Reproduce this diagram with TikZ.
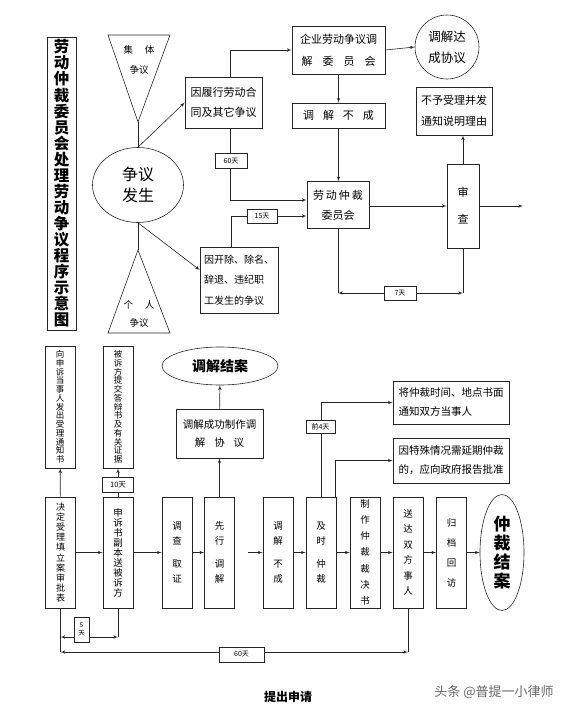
\documentclass[tikz,border=0pt]{standalone}
\usepackage{fontspec}
\setmainfont{Noto Sans CJK SC}
\usepackage{xcolor}
\usepackage{tikz}
\usetikzlibrary{positioning}
\usetikzlibrary{arrows}
\usetikzlibrary{shapes.geometric}
\tikzset{edge/.style = {->,> = latex'}}
\tikzset{both/.style = {<->,> = latex'}}
\newcommand{\gp}{\hspace{9pt}}

\begin{document}
\begin{tikzpicture}[x=1pt,y=-1pt,line width=0.6pt,draw=black!85,
    box/.style={draw,inner sep=0pt,align=center},
    tall/.style={box,minimum width=30pt,minimum height=111pt},
    tag/.style={draw,fill=white,inner sep=0pt,align=center,font=\fontsize{7}{8}\selectfont}]
\useasboundingbox (0,0) rectangle (576,712);

% upper part
\node[box,line width=0.9pt,minimum width=29pt,minimum height=293pt,font=\fontsize{15.5}{16.06}\selectfont\bfseries] (title) at (61.5,183.5) {劳\\动\\仲\\裁\\委\\员\\会\\处\\理\\劳\\动\\争\\议\\程\\序\\示\\意\\图};

\coordinate (jt) at (138,122);
\coordinate (gt) at (138,250);
\draw (108,35) -- (170,35) -- (jt) -- cycle;
\draw (108,333) -- (170,333) -- (gt) -- cycle;
\node[font=\fontsize{9.5}{10}\selectfont] (jt1) at (139,50) {集\hspace{12pt}体};
\node[font=\fontsize{9.5}{10}\selectfont] (jt2) at (139,70) {争议};
\node[font=\fontsize{9.5}{10}\selectfont] (gt1) at (139,305) {个\hspace{12pt}人};
\node[font=\fontsize{9.5}{10}\selectfont] (gt2) at (139,323) {争议};

\node[ellipse,draw,minimum width=91pt,minimum height=75pt,inner sep=0pt,align=center,font=\fontsize{16}{21}\selectfont] (fs) at (138,185) {争议\\发生};

\node[box,minimum width=77pt,minimum height=51pt,font=\fontsize{11}{20}\selectfont] (lx) at (223.5,102.5) {因履行劳动合\\同及其它争议};
\node[box,minimum width=93pt,minimum height=48pt,font=\fontsize{11}{22}\selectfont] (qy) at (338.5,50) {企业劳动争议调\\解\hspace{10pt}委\hspace{10pt}员\hspace{10pt}会};
\node[circle,draw,minimum size=64pt,inner sep=0pt,align=center,font=\fontsize{12.5}{21}\selectfont] (xy) at (447,47) {调解达\\成协议};
\node[box,minimum width=93pt,minimum height=25pt,font=\fontsize{11}{13}\selectfont] (bc) at (338.5,115.5) {调\gp 解\gp 不\gp 成};
\node[box,minimum width=62pt,minimum height=47pt,font=\fontsize{11}{20}\selectfont] (zc) at (338,205) {劳\hspace{2pt}动\hspace{2pt}仲\hspace{2pt}裁\\委员会};
\node[box,align=left,minimum width=78pt,minimum height=66pt,font=\fontsize{10}{20.5}\selectfont] (kc) at (239,280) {因开除、除名、\\辞退、违纪职\\工发生的争议};
\node[box,minimum width=32pt,minimum height=84pt,font=\fontsize{11}{27}\selectfont] (sc) at (463,206) {审\\查};
\node[box,minimum width=76pt,minimum height=48pt,font=\fontsize{11}{21}\selectfont] (by) at (454,111) {不予受理并发\\通知说明理由};
\coordinate (out) at (523,206);
\coordinate (d7l) at (338,293);
\coordinate (d7r) at (463,293);

\draw (jt) -- (fs.north);
\draw (fs.south) -- (gt);
\path (fs.north) edge[edge] (lx.west)
      (fs.south) edge[edge] ([yshift=10pt]kc.west)
      (qy.east) edge[edge] (xy.west)
      (qy.south) edge[edge] (qy.south |- bc.north)
      (bc.south) edge[edge] (bc.south |- zc.north)
      (sc.east) edge[edge] (out);
\draw[edge] ([xshift=6.5pt]lx.north) |- (qy.west);
\draw[edge] ([xshift=6.5pt]lx.south) |- ([yshift=5pt]zc.west);
\draw[edge] ([xshift=-8pt]kc.north) |- ([yshift=-11pt]zc.west);
\draw[edge] ([yshift=-1pt]zc.east) -- ([yshift=-1pt]zc.east -| sc.west);
\draw[edge] (sc.north) -- (sc.north |- by.south);
\draw (zc.south) -- (d7l);
\draw (sc.south) -- (d7r);
\draw[both] (d7l) -- (d7r);

\node[tag,minimum width=32pt,minimum height=15pt] (t60) at (231,161) {60天};
\node[tag,minimum width=30pt,minimum height=14pt] (t15) at (262,216) {15天};
\node[tag,minimum width=32pt,minimum height=14pt] (t7) at (400,293) {7天};

% lower part
\node[tall,font=\fontsize{9}{10.2}\selectfont] (1) at (60.5,552.5) {决\\定\\受\\理\\填\\立\\案\\审\\批\\表};
\node[tall,font=\fontsize{9.5}{10}\selectfont] (2) at (118,552.5) {申\\诉\\书\\副\\本\\送\\被\\诉\\方};
\node[tall,font=\fontsize{9.5}{15.5}\selectfont] (3) at (177,552.5) {调\\查\\[7pt]取\\证};
\node[tall,font=\fontsize{9.5}{15.5}\selectfont] (4) at (219.5,552.5) {先\\行\\[7pt]调\\解};
\node[tall,font=\fontsize{9.5}{15.5}\selectfont] (5) at (278,552.5) {调\\解\\[7pt]不\\成};
\node[tall,font=\fontsize{9.5}{15.5}\selectfont] (6) at (321,552.5) {及\\时\\[7pt]仲\\裁};
\node[tall,font=\fontsize{9.5}{16}\selectfont] (7) at (365,552.5) {制\\作\\仲\\裁\\[1pt]裁\\决\\书};
\node[tall,font=\fontsize{9.5}{15.5}\selectfont] (8) at (408,552.5) {送\\达\\双\\方\\事\\人};
\node[tall,font=\fontsize{9.5}{20}\selectfont] (9) at (451.5,552.5) {归\\档\\回\\访};
\node[ellipse,draw,minimum width=44pt,minimum height=116pt,inner sep=0pt,align=center,font=\fontsize{17}{19}\selectfont\bfseries] (end) at (502,552.5) {仲\\裁\\结\\案};

\node[box,minimum width=30pt,minimum height=122pt,font=\fontsize{8.5}{8.75}\selectfont] (u1) at (60,407) {向\\申\\诉\\当\\事\\人\\发\\出\\受\\理\\通\\知\\书};
\node[box,minimum width=30pt,minimum height=122pt,font=\fontsize{8.5}{8.75}\selectfont] (u2) at (118,407) {被\\诉\\方\\提\\交\\答\\辩\\书\\及\\有\\关\\证\\据};
\node[box,minimum width=87pt,minimum height=49pt,font=\fontsize{10.5}{18}\selectfont] (cg) at (219.5,433.5) {调解成功制作调\\解\hspace{9pt}协\hspace{9pt}议};
\node[ellipse,draw,minimum width=116pt,minimum height=38pt,inner sep=0pt,font=\fontsize{14}{16}\selectfont\bfseries] (tj) at (220,366) {调解结案};
\node[box,align=left,minimum width=116pt,minimum height=43pt,font=\fontsize{10.5}{19}\selectfont] (tz) at (451,402.5) {将仲裁时间、地点书面\\通知双方当事人};
\node[box,align=left,minimum width=116pt,minimum height=45pt,font=\fontsize{10.5}{19}\selectfont] (yq) at (451,460.5) {因特殊情况需延期仲裁\\的，应向政府报告批准};

\coordinate (g5) at (248,552.5);
\coordinate (p1) at (60.5,652);
\coordinate (p1b) at (60.5,637);
\coordinate (p2) at (118,637);
\coordinate (p8) at (408,652);

\path (1) edge[edge] (2)
      (2) edge[edge] (3)
      (3) edge[edge] (4)
      (g5) edge[edge] (5)
      (5) edge[edge] (6)
      (6) edge[edge] (7)
      (7) edge[edge] (8)
      (8) edge[edge] (9)
      (9) edge[edge] (end)
      (1) edge[edge] (u1)
      (2) edge[edge] (u2)
      (4) edge[edge] (cg)
      (cg) edge[edge] (tj);
\draw[edge] (6.north) |- (tz.west);
\draw[edge] ([xshift=-1.5pt]6.north east) |- (yq.west);
\draw (1.south) -- (p1);
\draw (2.south) -- (p2);
\draw (8.south) -- (p8);
\draw[both] (p1b) -- (p2);
\draw[both] (p1) -- (p8);

\node[tag,minimum width=31pt,minimum height=15pt,font=\fontsize{7.5}{8}\selectfont] (t10) at (118,484.5) {10天};
\node[tag,minimum width=29pt,minimum height=13pt] (t4) at (320.5,426.5) {前4天};
\node[tag,minimum width=15pt,minimum height=25pt,font=\fontsize{6.5}{8}\selectfont] (t5) at (81.5,629.5) {5\\天};
\node[tag,minimum width=45pt,minimum height=15pt] (t60b) at (241.5,654.5) {60天};

\node[font=\fontsize{12}{14}\selectfont\bfseries] (sq) at (288,697) {提出申请};
\node[font=\fontsize{13}{15}\selectfont,text=black!60] (wm) at (494,692) {头条 @普提一小律师};
\end{tikzpicture}
\end{document}
